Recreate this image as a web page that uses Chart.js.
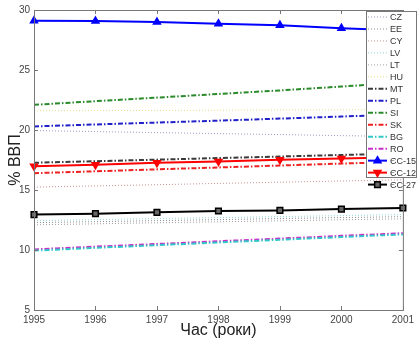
<!DOCTYPE html>
<html>
<head>
<meta charset="utf-8">
<script src="https://cdn.jsdelivr.net/npm/chart.js@4"></script>
<style>
  html, body { margin: 0; padding: 0; background: #fff; }
  #wrap { width: 418px; height: 342px; }
</style>
</head>
<body>
<div id="wrap"><canvas id="gdp"></canvas></div>
<script>
// ─── Data ───────────────────────────────────────────────────────────────
const years = ["1995", "1996", "1997", "1998", "1999", "2000", "2001"];
const yTicks = [5, 10, 15, 20, 25, 30];

const cz   = [19.95, 19.87, 19.78, 19.70, 19.62, 19.53, 19.45];
const ee   = [12.28, 12.36, 12.45, 12.53, 12.62, 12.70, 12.78];
const cy   = [15.24, 15.34, 15.44, 15.55, 15.65, 15.75, 15.85];
const lv   = [12.45, 12.53, 12.62, 12.70, 12.78, 12.87, 12.95];
const lt   = [12.10, 12.18, 12.27, 12.35, 12.43, 12.52, 12.60];
const hu   = [21.60, 21.62, 21.63, 21.65, 21.67, 21.68, 21.70];
const mt   = [17.27, 17.40, 17.53, 17.66, 17.79, 17.92, 18.05];
const pl   = [20.30, 20.46, 20.62, 20.78, 20.95, 21.12, 21.30];
const si   = [22.10, 22.40, 22.70, 23.00, 23.30, 23.62, 23.95];
const sk   = [16.40, 16.56, 16.72, 16.88, 17.04, 17.20, 17.36];
const bg   = [9.95, 10.18, 10.40, 10.63, 10.85, 11.08, 11.30];
const ro   = [10.05, 10.28, 10.50, 10.73, 10.95, 11.18, 11.40];
const ec15 = [29.10, 29.08, 29.00, 28.86, 28.73, 28.48, 28.30];
const ec12 = [16.98, 17.10, 17.27, 17.38, 17.52, 17.62, 17.72];
const ec27 = [12.95, 13.03, 13.14, 13.25, 13.30, 13.41, 13.50];

// ─── Line styles ────────────────────────────────────────────────────────
const DOT = [1, 2];
const DASHDOT = [5, 2, 1.5, 2];

function dotted(label, data, color) {
  return { label, data, borderColor: color, borderWidth: 1, borderDash: DOT,
           pointRadius: 0, order: 2 };
}
function dashdot(label, data, color) {
  return { label, data, borderColor: color, borderWidth: 2, borderDash: DASHDOT,
           pointRadius: 0, order: 1 };
}
function marked(label, data, color, style, fill, rot) {
  return { label, data, borderColor: color, borderWidth: 2, borderDash: [],
           pointStyle: style, pointRadius: 4, pointRotation: rot || 0,
           pointBackgroundColor: fill, pointBorderColor: color,
           pointBorderWidth: 1.5, order: 0 };
}

const datasets = [
  dotted("CZ", cz, "#9a9ac8"),
  dotted("EE", ee, "#8c8c8c"),
  dotted("CY", cy, "#c99090"),
  dotted("LV", lv, "#8fd6d6"),
  dotted("LT", lt, "#a0a0a0"),
  dotted("HU", hu, "#e2dc8a"),
  dashdot("MT", mt, "#3a3a3a"),
  dashdot("PL", pl, "#2020c8"),
  dashdot("SI", si, "#2a8a2a"),
  dashdot("SK", sk, "#ee2020"),
  dashdot("BG", bg, "#30c8c8"),
  dashdot("RO", ro, "#c830c8"),
  marked("ЄС-15", ec15, "#0000ff", "triangle", "#0000ff"),
  marked("ЄС-12", ec12, "#ff0000", "triangle", "#ff0000", 180),
  marked("ЄС-27", ec27, "#000000", "rect", "#666666"),
];

// ─── Frame, inward ticks and in-plot legend ─────────────────────────────
const FONT = "'Liberation Sans', Arial, sans-serif";

const matlabBox = {
  id: "matlabBox",
  afterDraw(chart) {
    const { ctx, chartArea: a, scales } = chart;
    ctx.save();
    ctx.strokeStyle = "#777";
    ctx.lineWidth = 1;
    ctx.setLineDash([]);
    ctx.strokeRect(a.left + 0.5, a.top + 0.5, a.right - a.left, a.bottom - a.top);

    const tl = 4;
    ctx.beginPath();
    years.forEach((y, i) => {
      const px = Math.round(scales.x.getPixelForValue(i)) + 0.5;
      ctx.moveTo(px, a.bottom); ctx.lineTo(px, a.bottom - tl);
      ctx.moveTo(px, a.top); ctx.lineTo(px, a.top + tl);
    });
    yTicks.forEach(v => {
      const py = Math.round(scales.y.getPixelForValue(v)) + 0.5;
      ctx.moveTo(a.left, py); ctx.lineTo(a.left + tl, py);
      ctx.moveTo(a.right, py); ctx.lineTo(a.right - tl, py);
    });
    ctx.stroke();

    // legend box
    const lx = 366, ly = 11, lw = 51, lh = 166, step = 11.97;
    ctx.fillStyle = "#fff";
    ctx.fillRect(lx, ly, lw, lh);
    ctx.strokeStyle = "#777";
    ctx.strokeRect(lx + 0.5, ly + 0.5, lw - 1, lh);
    ctx.font = "9px " + FONT;
    ctx.textBaseline = "middle";
    chart.data.datasets.forEach((ds, i) => {
      const cy = ly + 6 + i * step;
      ctx.strokeStyle = ds.borderColor;
      ctx.lineWidth = ds.borderWidth;
      ctx.setLineDash(ds.borderDash || []);
      ctx.beginPath();
      ctx.moveTo(368, cy); ctx.lineTo(387, cy);
      ctx.stroke();
      ctx.setLineDash([]);
      if (ds.pointRadius) {
        ctx.fillStyle = ds.pointBackgroundColor;
        ctx.strokeStyle = ds.pointBorderColor;
        ctx.lineWidth = 1.5;
        Chart.helpers.drawPoint(ctx, {
          pointStyle: ds.pointStyle, radius: 4, borderWidth: 1.5,
          rotation: ds.pointRotation || 0,
        }, 377.5, cy);
      }
      ctx.fillStyle = "#333";
      ctx.fillText(ds.label, 390, cy + 0.5);
    });
    ctx.restore();
  },
};

// ─── Chart ──────────────────────────────────────────────────────────────
new Chart(document.getElementById("gdp"), {
  type: "line",
  data: { labels: years, datasets },
  options: {
    responsive: true,
    maintainAspectRatio: false,
    animation: false,
    events: [],
    layout: { padding: { top: 9, right: 9, left: 0, bottom: 0 } },
    plugins: { legend: { display: false }, tooltip: { enabled: false } },
    elements: { line: { tension: 0, fill: false } },
    scales: {
      x: {
        offset: false,
        grid: { display: false, drawTicks: false },
        border: { display: false },
        ticks: { color: "#444", font: { family: FONT, size: 10 }, padding: 4,
                 maxRotation: 0, autoSkip: false },
        title: { display: true, text: "Час (роки)", color: "#222",
                 font: { family: FONT, size: 16 }, padding: { top: 0, bottom: 2 } },
        afterFit(s) { s.height = 32; },
      },
      y: {
        min: 5, max: 30,
        grid: { display: false, drawTicks: false },
        border: { display: false },
        ticks: { stepSize: 5, color: "#444", font: { family: FONT, size: 10 }, padding: 4 },
        title: { display: true, text: "% ВВП", color: "#222",
                 font: { family: FONT, size: 16 }, padding: { top: 6, bottom: 0 } },
        afterFit(s) { s.width = 34; },
      },
    },
  },
  plugins: [matlabBox],
});
</script>
</body>
</html>
